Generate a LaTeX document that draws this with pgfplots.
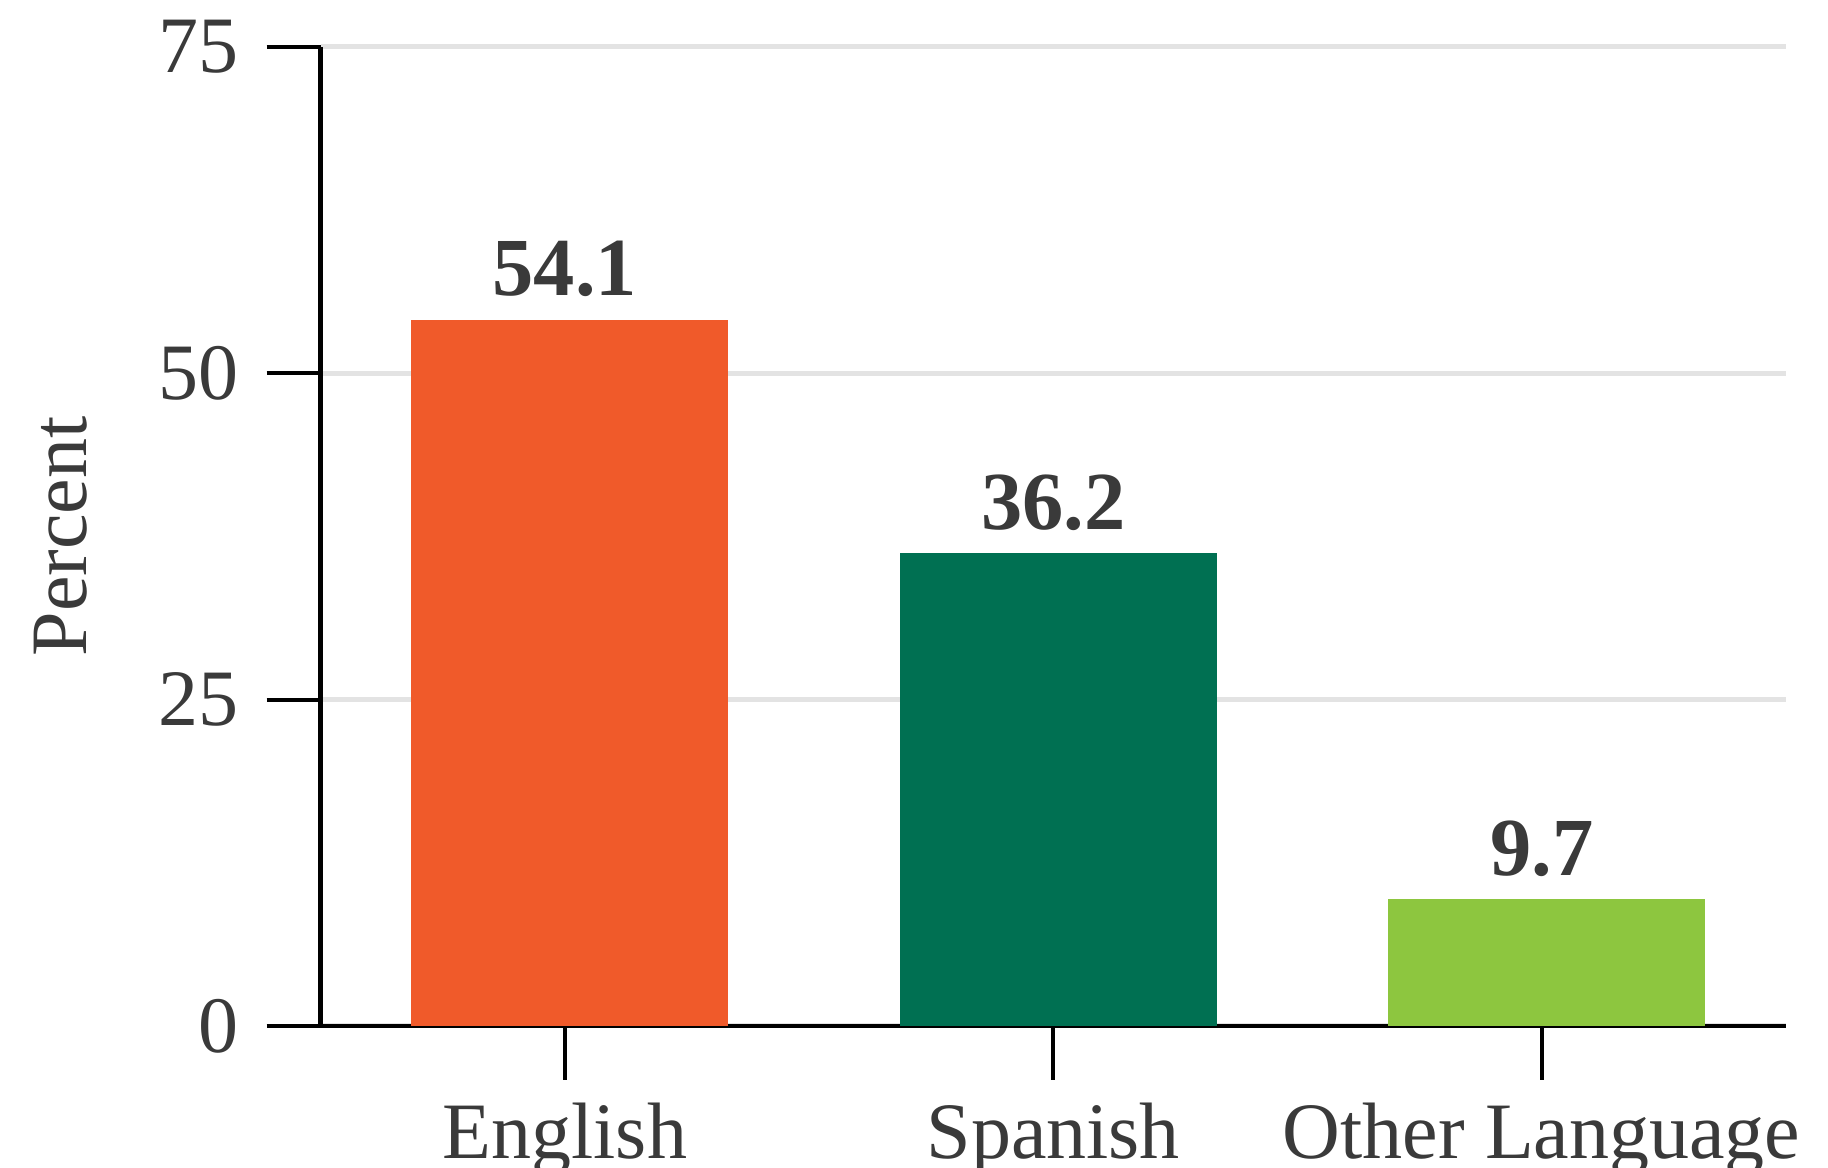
\documentclass[border=0pt]{standalone}
\usepackage{fontspec}
\setmainfont{Liberation Serif}
\usepackage{pgfplots}
\pgfplotsset{compat=1.18}
\definecolor{cOrange}{HTML}{F05A2A}
\definecolor{cGreen}{HTML}{007052}
\definecolor{cLime}{HTML}{8DC63F}
\definecolor{txt}{HTML}{3A3A3A}
\definecolor{gridc}{HTML}{E3E3E3}
\begin{document}
\begin{tikzpicture}
\begin{axis}[
  scale only axis,
  width=293.1pt, height=195.8pt,
  xmin=-0.5, xmax=2.5,
  ymin=0, ymax=75,
  axis x line=bottom, axis y line=left,
  axis line style={black, line width=0.9pt, -},
  xtick={0,1,2},
  xticklabels={English,Spanish,Other Language},
  ytick={0,25,50,75},
  tick align=outside,
  major tick length=10.8pt,
  tick style={black, line width=0.8pt},
  xtick pos=bottom, ytick pos=left,
  ymajorgrids,
  grid style={gridc, line width=1pt},
  /pgf/number format/assume math mode=true,
  tick label style={text=txt, font=\fontsize{16}{19}\selectfont},
  yticklabel style={xshift=-2pt},
  xticklabel style={yshift=-1pt},
  ylabel={Percent},
  ylabel style={text=txt, font=\fontsize{16}{19}\selectfont},
  every axis y label/.append style={at={(ticklabel cs:0.5)}, yshift=7.5pt},
  point meta=explicit symbolic,
  nodes near coords,
  nodes near coords style={text=txt, font=\bfseries\fontsize{16.5}{19}\selectfont, anchor=south, yshift=1pt},
  clip=false,
]
\addplot[ybar, bar width=63.4pt, bar shift=1pt, fill=cOrange, draw=none] coordinates {(0,54.1) [54.1]};
\addplot[ybar, bar width=63.4pt, bar shift=1pt, fill=cGreen, draw=none] coordinates {(1,36.2) [36.2]};
\addplot[ybar, bar width=63.4pt, bar shift=1pt, fill=cLime, draw=none] coordinates {(2,9.7) [9.7]};
\end{axis}
\pgfresetboundingbox
\path ([xshift=-64.1pt,yshift=-28.4pt]current axis.south west) rectangle ([xshift=8.4pt,yshift=9.4pt]current axis.north east);
\end{tikzpicture}
\end{document}
